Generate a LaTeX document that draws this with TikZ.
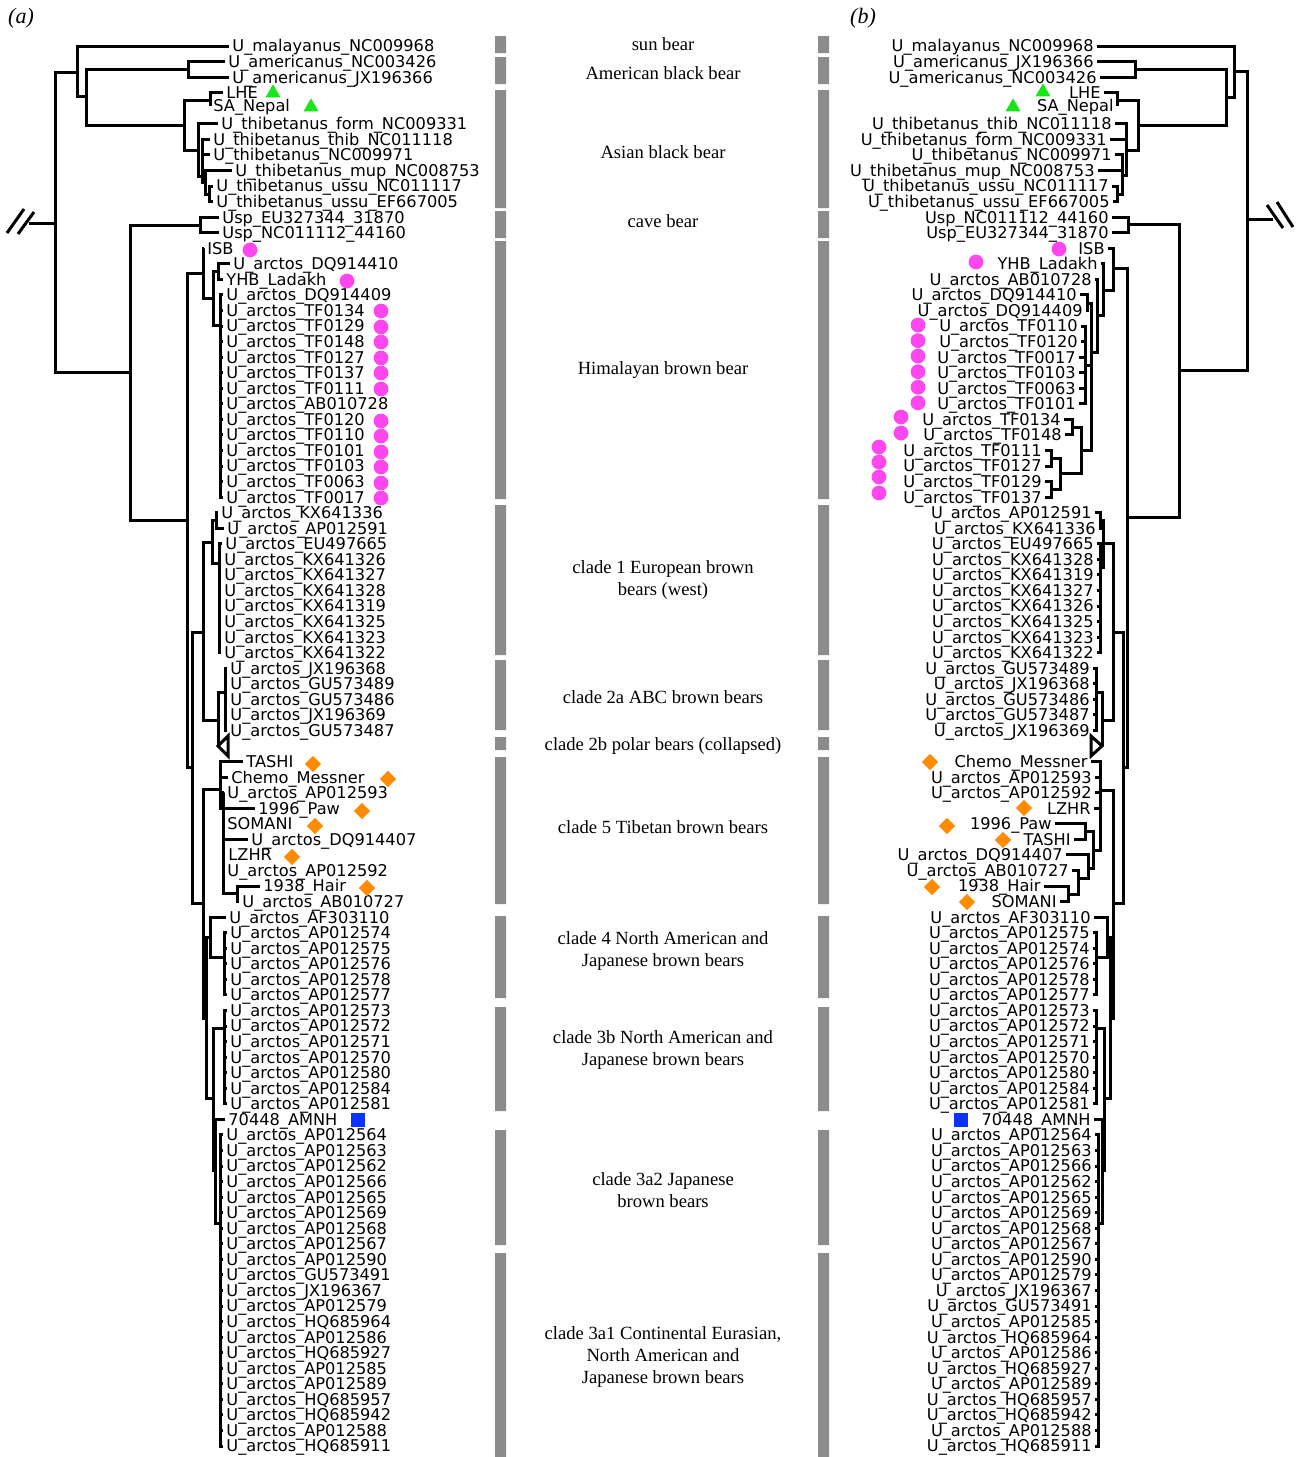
\documentclass[tikz,border=0pt]{standalone}
\usepackage{fontspec}
\setmainfont{Liberation Serif}
\newfontfamily\leaffont{DejaVu Sans}
\usetikzlibrary{shapes.geometric}
\definecolor{barGrey}{HTML}{8C8C8C}
\definecolor{hapGreen}{HTML}{19E619}
\definecolor{hapPink}{HTML}{FF47F0}
\definecolor{hapOrange}{HTML}{FF8C00}
\definecolor{hapBlue}{HTML}{0A32FF}
\newcommand{\ua}{U\_arctos\_}

\begin{document}
\begin{tikzpicture}[
 x=0.5pt,y=-0.5pt,
 leafL/.style={anchor=west,inner xsep=1.5pt,inner ysep=0pt,text height=5.9pt,text depth=0pt,font=\leaffont\fontsize{8.1}{9}\selectfont},
 leafR/.style={leafL,anchor=east},
 branch/.style={line width=1.5pt,line join=miter,draw=black},
 cladelabel/.style={font=\fontsize{9.3}{11}\selectfont,align=center,inner sep=0pt},
 panel/.style={font=\itshape\fontsize{11}{13}\selectfont,inner sep=0pt},
 clBar/.style={fill=barGrey},
 hapTri/.style={regular polygon,regular polygon sides=3,fill=hapGreen,inner sep=0pt,minimum size=8.6pt},
 hapDot/.style={circle,fill=hapPink,inner sep=0pt,minimum size=7.4pt},
 hapDia/.style={diamond,fill=hapOrange,inner sep=0pt,minimum size=8.2pt},
 hapSq/.style={rectangle,fill=hapBlue,inner sep=0pt,minimum size=7pt}
]
\path[use as bounding box,fill=white] (0,0) rectangle (1301,1457);

\node[panel] (pa) at (21,18) {(a)};
\node[panel] (pb) at (863,18) {(b)};

% clade bars, left and right
\fill[clBar] (495,36) rectangle (506,53) (818,36) rectangle (829,53);
\fill[clBar] (495,57) rectangle (506,84) (818,57) rectangle (829,84);
\fill[clBar] (495,90) rectangle (506,208) (818,90) rectangle (829,208);
\fill[clBar] (495,211) rectangle (506,238) (818,211) rectangle (829,238);
\fill[clBar] (495,241) rectangle (506,499) (818,241) rectangle (829,499);
\fill[clBar] (495,505) rectangle (506,655) (818,505) rectangle (829,655);
\fill[clBar] (495,660) rectangle (506,730) (818,660) rectangle (829,730);
\fill[clBar] (495,737) rectangle (506,750) (818,737) rectangle (829,750);
\fill[clBar] (495,757) rectangle (506,904) (818,757) rectangle (829,904);
\fill[clBar] (495,916) rectangle (506,998) (818,916) rectangle (829,998);
\fill[clBar] (495,1007) rectangle (506,1111) (818,1007) rectangle (829,1111);
\fill[clBar] (495,1130) rectangle (506,1245) (818,1130) rectangle (829,1245);
\fill[clBar] (495,1253) rectangle (506,1457) (818,1253) rectangle (829,1457);

\node[cladelabel] (cl1) at (663,44) {sun bear};
\node[cladelabel] (cl2) at (663,73) {American black bear};
\node[cladelabel] (cl3) at (663,152) {Asian black bear};
\node[cladelabel] (cl4) at (663,221) {cave bear};
\node[cladelabel] (cl5) at (663,370) {Himalayan brown bear};
\node[cladelabel] (cl6) at (663,580) {clade 1 European brown\\bears (west)};
\node[cladelabel] (cl7) at (663,697) {clade 2a ABC brown bears};
\node[cladelabel] (cl8) at (663,746) {clade 2b polar bears (collapsed)};
\node[cladelabel] (cl9) at (663,827) {clade 5 Tibetan brown bears};
\node[cladelabel] (cl10) at (663,951) {clade 4 North American and\\Japanese brown bears};
\node[cladelabel] (cl11) at (663,1050) {clade 3b North American and\\Japanese brown bears};
\node[cladelabel] (cl12) at (663,1190) {clade 3a2 Japanese\\brown bears};
\node[cladelabel] (cl13) at (663,1357) {clade 3a1 Continental Eurasian,\\North American and\\Japanese brown bears};

% ---------- tree (a) ----------
\node[leafL] (la1) at (229,46.0) {U\_malayanus\_NC009968};
\node[leafL] (la2) at (225,61.6) {U\_americanus\_NC003426};
\node[leafL] (la3) at (229,77.1) {U\_americanus\_JX196366};
\node[leafL] (la4) at (223,92.7) {LHE};
\node[leafL] (la5) at (210,106) {SA\_Nepal};
\node[leafL] (la6) at (218,123.8) {U\_thibetanus\_form\_NC009331};
\node[leafL] (la7) at (210,139.3) {U\_thibetanus\_thib\_NC011118};
\node[leafL] (la8) at (210,154.9) {U\_thibetanus\_NC009971};
\node[leafL] (la9) at (232,170.4) {U\_thibetanus\_mup\_NC008753};
\node[leafL] (la10) at (213,186.0) {U\_thibetanus\_ussu\_NC011117};
\node[leafL] (la11) at (213,201.6) {U\_thibetanus\_ussu\_EF667005};
\node[leafL] (la12) at (219,217.1) {Usp\_EU327344\_31870};
\node[leafL] (la13) at (219,232.7) {Usp\_NC011112\_44160};
\node[leafL] (la14) at (204,248.2) {ISB};
\node[leafL] (la15) at (230,263.8) {\ua DQ914410};
\node[leafL] (la16) at (223,279.3) {YHB\_Ladakh};
\node[leafL] (la17) at (223,294.9) {\ua DQ914409};
\node[leafL] (la18) at (223,310.4) {\ua TF0134};
\node[leafL] (la19) at (223,326.0) {\ua TF0129};
\node[leafL] (la20) at (223,341.6) {\ua TF0148};
\node[leafL] (la21) at (223,357.1) {\ua TF0127};
\node[leafL] (la22) at (223,372.7) {\ua TF0137};
\node[leafL] (la23) at (223,388.2) {\ua TF0111};
\node[leafL] (la24) at (223,403.8) {\ua AB010728};
\node[leafL] (la25) at (223,419.3) {\ua TF0120};
\node[leafL] (la26) at (223,434.9) {\ua TF0110};
\node[leafL] (la27) at (223,450.4) {\ua TF0101};
\node[leafL] (la28) at (223,466.0) {\ua TF0103};
\node[leafL] (la29) at (223,481.6) {\ua TF0063};
\node[leafL] (la30) at (223,497.1) {\ua TF0017};
\node[leafL] (la31) at (218,512.7) {\ua KX641336};
\node[leafL] (la32) at (224,528.2) {\ua AP012591};
\node[leafL] (la33) at (222,543.8) {\ua EU497665};
\node[leafL] (la34) at (221,559.3) {\ua KX641326};
\node[leafL] (la35) at (221,574.9) {\ua KX641327};
\node[leafL] (la36) at (221,590.4) {\ua KX641328};
\node[leafL] (la37) at (221,606.0) {\ua KX641319};
\node[leafL] (la38) at (221,621.6) {\ua KX641325};
\node[leafL] (la39) at (221,637.1) {\ua KX641323};
\node[leafL] (la40) at (221,652.7) {\ua KX641322};
\node[leafL] (la41) at (227,668.2) {\ua JX196368};
\node[leafL] (la42) at (227,683.8) {\ua GU573489};
\node[leafL] (la43) at (227,699.3) {\ua GU573486};
\node[leafL] (la44) at (227,714.9) {\ua JX196369};
\node[leafL] (la45) at (227,730.4) {\ua GU573487};
\node[leafL] (la47) at (243,761.6) {TASHI};
\node[leafL] (la48) at (228,777.1) {Chemo\_Messner};
\node[leafL] (la49) at (224,792.7) {\ua AP012593};
\node[leafL] (la50) at (255,808.2) {1996\_Paw};
\node[leafL] (la51) at (224,823.8) {SOMANI};
\node[leafL] (la52) at (248,839.3) {\ua DQ914407};
\node[leafL] (la53) at (225,854.9) {LZHR};
\node[leafL] (la54) at (224,870.4) {\ua AP012592};
\node[leafL] (la55) at (260,886.0) {1938\_Hair};
\node[leafL] (la56) at (239,901.6) {\ua AB010727};
\node[leafL] (la57) at (226,917.1) {\ua AF303110};
\node[leafL] (la58) at (227,932.7) {\ua AP012574};
\node[leafL] (la59) at (227,948.2) {\ua AP012575};
\node[leafL] (la60) at (227,963.8) {\ua AP012576};
\node[leafL] (la61) at (227,979.3) {\ua AP012578};
\node[leafL] (la62) at (227,994.9) {\ua AP012577};
\node[leafL] (la63) at (227,1010.4) {\ua AP012573};
\node[leafL] (la64) at (227,1026.0) {\ua AP012572};
\node[leafL] (la65) at (227,1041.6) {\ua AP012571};
\node[leafL] (la66) at (227,1057.1) {\ua AP012570};
\node[leafL] (la67) at (227,1072.7) {\ua AP012580};
\node[leafL] (la68) at (227,1088.2) {\ua AP012584};
\node[leafL] (la69) at (227,1103.8) {\ua AP012581};
\node[leafL] (la70) at (225,1119.3) {70448\_AMNH};
\node[leafL] (la71) at (223,1134.9) {\ua AP012564};
\node[leafL] (la72) at (223,1150.4) {\ua AP012563};
\node[leafL] (la73) at (223,1166.0) {\ua AP012562};
\node[leafL] (la74) at (223,1181.6) {\ua AP012566};
\node[leafL] (la75) at (223,1197.1) {\ua AP012565};
\node[leafL] (la76) at (223,1212.7) {\ua AP012569};
\node[leafL] (la77) at (223,1228.2) {\ua AP012568};
\node[leafL] (la78) at (223,1243.8) {\ua AP012567};
\node[leafL] (la79) at (223,1259.3) {\ua AP012590};
\node[leafL] (la80) at (223,1274.9) {\ua GU573491};
\node[leafL] (la81) at (223,1290.4) {\ua JX196367};
\node[leafL] (la82) at (223,1306.0) {\ua AP012579};
\node[leafL] (la83) at (223,1321.6) {\ua HQ685964};
\node[leafL] (la84) at (223,1337.1) {\ua AP012586};
\node[leafL] (la85) at (223,1352.7) {\ua HQ685927};
\node[leafL] (la86) at (223,1368.2) {\ua AP012585};
\node[leafL] (la87) at (223,1383.8) {\ua AP012589};
\node[leafL] (la88) at (223,1399.3) {\ua HQ685957};
\node[leafL] (la89) at (223,1414.9) {\ua HQ685942};
\node[leafL] (la90) at (223,1430.4) {\ua AP012588};
\node[leafL] (la91) at (223,1446.0) {\ua HQ685911};

\coordinate (Lcut) at (29,223);
\coordinate (Lroot) at (55,223);
\coordinate (L1) at (77,72);
\coordinate (L2) at (86,96);
\coordinate (L3) at (188,69);
\coordinate (L4) at (184,125);
\coordinate (L5) at (210,100);
\coordinate (L6) at (198,150);
\coordinate (L7) at (202,176);
\coordinate (L8) at (205,182);
\coordinate (L9) at (209,194);
\coordinate (L10) at (130,372);
\coordinate (L11) at (200,225);
\coordinate (L12) at (187,520);
\coordinate (LH1) at (203,273);
\coordinate (LH2) at (213,298);
\coordinate (LH3) at (218,271);
\coordinate (LH4) at (220,325);
\coordinate (L13) at (192,767);
\coordinate (L14) at (203,632);
\coordinate (L15) at (212,542);
\coordinate (L16) at (216,520);
\coordinate (L16b) at (219,563);
\coordinate (L17) at (218,720);
\coordinate (L18) at (225,692);
\coordinate (Lpolar) at (218,746);
\coordinate (L20) at (203,903);
\coordinate (L21) at (220,789);
\coordinate (L22) at (223,808);
\coordinate (L23) at (237,893);
\coordinate (L25) at (206,1018);
\coordinate (L26) at (210,937);
\coordinate (L27) at (224,957);
\coordinate (L28) at (213,1098);
\coordinate (L29) at (224,1028);
\coordinate (L30) at (215,1170);
\coordinate (L31) at (220,1223);

\draw[branch] (Lcut) -- (Lroot);
\draw[branch] (7,233) -- (24,209) (18,234) -- (34,212);
\draw[branch] (Lroot) |- (L1) (Lroot) |- (L10);
\draw[branch] (L1) |- (la1.west) (L1) |- (L2);
\draw[branch] (L2) |- (L3) (L2) |- (L4);
\draw[branch] (L3) |- (la2.west) (L3) |- (la3.west);
\draw[branch] (L4) |- (L5) (L4) |- (L6);
\draw[branch] (L5) |- (la4.west) (L5) |- (la5.west);
\draw[branch] (L6) |- (la6.west) (L6) |- (L7);
\draw[branch] (L7) |- (la7.west) (L7) |- (la8.west) (L7) |- (L8);
\draw[branch] (L8) |- (la9.west) (L8) |- (L9);
\draw[branch] (L9) |- (la10.west) (L9) |- (la11.west);
\draw[branch] (L10) |- (L11) (L10) |- (L12);
\draw[branch] (L11) |- (la12.west) (L11) |- (la13.west);
\draw[branch] (L12) |- (LH1) (L12) |- (L13);
\draw[branch] (LH1) |- (la14.west) (LH1) |- (LH2);
\draw[branch] (LH2) |- (LH3) (LH2) |- (LH4);
\draw[branch] (LH3) |- (la15.west) (LH3) |- (la16.west);
\draw[branch] (LH4) |- (la17.west) (LH4) |- (la18.west) (LH4) |- (la19.west) (LH4) |- (la20.west)
 (LH4) |- (la21.west) (LH4) |- (la22.west) (LH4) |- (la23.west) (LH4) |- (la24.west)
 (LH4) |- (la25.west) (LH4) |- (la26.west) (LH4) |- (la27.west) (LH4) |- (la28.west)
 (LH4) |- (la29.west) (LH4) |- (la30.west);
\draw[branch] (L13) |- (L14) (L13) |- (L20);
\draw[branch] (L14) |- (L15) (L14) |- (L17);
\draw[branch] (L15) |- (L16) (L15) |- (L16b);
\draw[branch] (L16) |- (la31.west) (L16) |- (la32.west);
\draw[branch] (L16b) |- (la33.west) (L16b) |- (la34.west) (L16b) |- (la35.west) (L16b) |- (la36.west)
 (L16b) |- (la37.west) (L16b) |- (la38.west) (L16b) |- (la39.west) (L16b) |- (la40.west);
\draw[branch] (L17) |- (L18) (L17) |- (Lpolar);
\draw[branch] (L18) |- (la41.west) (L18) |- (la42.west) (L18) |- (la43.west) (L18) |- (la44.west) (L18) |- (la45.west);
\draw[branch,fill=white] (Lpolar) -- ++(10,-10) -- ++(0,20) -- cycle;
\draw[branch] (L20) |- (L21) (L20) |- (L25);
\draw[branch] (L21) |- (la47.west) (L21) |- (la48.west) (L21) |- (L22);
\draw[branch] (L22) |- (la49.west) (L22) |- (la50.west) (L22) |- (la51.west) (L22) |- (la52.west)
 (L22) |- (la53.west) (L22) |- (la54.west) (L22) |- (L23);
\draw[branch] (L23) |- (la55.west) (L23) |- (la56.west);
\draw[branch] (L25) |- (L26) (L25) |- (L28);
\draw[branch] (L26) |- (la57.west) (L26) |- (L27);
\draw[branch] (L27) |- (la58.west) (L27) |- (la59.west) (L27) |- (la60.west) (L27) |- (la61.west) (L27) |- (la62.west);
\draw[branch] (L28) |- (L29) (L28) |- (L30);
\draw[branch] (L29) |- (la63.west) (L29) |- (la64.west) (L29) |- (la65.west) (L29) |- (la66.west)
 (L29) |- (la67.west) (L29) |- (la68.west) (L29) |- (la69.west);
\draw[branch] (L30) |- (la70.west) (L30) |- (L31);
\draw[branch] (L31) |- (la71.west) (L31) |- (la72.west) (L31) |- (la73.west) (L31) |- (la74.west)
 (L31) |- (la75.west) (L31) |- (la76.west) (L31) |- (la77.west) (L31) |- (la78.west)
 (L31) |- (la79.west) (L31) |- (la80.west) (L31) |- (la81.west) (L31) |- (la82.west)
 (L31) |- (la83.west) (L31) |- (la84.west) (L31) |- (la85.west) (L31) |- (la86.west)
 (L31) |- (la87.west) (L31) |- (la88.west) (L31) |- (la89.west) (L31) |- (la90.west) (L31) |- (la91.west);

\node[hapTri] (mkLa) at (273,93) {};
\node[hapTri] (mkLb) at (311,107) {};
\node[hapDot] (mkLc) at (250,250) {};
\node[hapDot] (mkLd) at (347,281) {};
\node[hapDot] (mkLe) at (381,311) {};
\node[hapDot] (mkLf) at (381,327) {};
\node[hapDot] (mkLg) at (381,342) {};
\node[hapDot] (mkLh) at (381,358) {};
\node[hapDot] (mkLi) at (381,373) {};
\node[hapDot] (mkLj) at (381,389) {};
\node[hapDot] (mkLk) at (381,421) {};
\node[hapDot] (mkLl) at (381,436) {};
\node[hapDot] (mkLm) at (381,452) {};
\node[hapDot] (mkLn) at (381,467) {};
\node[hapDot] (mkLo) at (381,483) {};
\node[hapDot] (mkLp) at (381,498) {};
\node[hapDia] (mkLq) at (313,764) {};
\node[hapDia] (mkLr) at (388,779) {};
\node[hapDia] (mkLs) at (362,811) {};
\node[hapDia] (mkLt) at (315,826) {};
\node[hapDia] (mkLu) at (292,857) {};
\node[hapDia] (mkLv) at (367,888) {};
\node[hapSq] (mkLw) at (358,1120) {};

% ---------- tree (b) ----------
\node[leafR] (rb1) at (1097,46.0) {U\_malayanus\_NC009968};
\node[leafR] (rb2) at (1097,61.6) {U\_americanus\_JX196366};
\node[leafR] (rb3) at (1100,77.1) {U\_americanus\_NC003426};
\node[leafR] (rb4) at (1104,92.7) {LHE};
\node[leafR] (rb5) at (1117,106) {SA\_Nepal};
\node[leafR] (rb6) at (1115,123.8) {U\_thibetanus\_thib\_NC011118};
\node[leafR] (rb7) at (1110,139.3) {U\_thibetanus\_form\_NC009331};
\node[leafR] (rb8) at (1115,154.9) {U\_thibetanus\_NC009971};
\node[leafR] (rb9) at (1098,170.4) {U\_thibetanus\_mup\_NC008753};
\node[leafR] (rb10) at (1112,186.0) {U\_thibetanus\_ussu\_NC011117};
\node[leafR] (rb11) at (1113,201.6) {U\_thibetanus\_ussu\_EF667005};
\node[leafR] (rb12) at (1112,217.1) {Usp\_NC011112\_44160};
\node[leafR] (rb13) at (1112,232.7) {Usp\_EU327344\_31870};
\node[leafR] (rb14) at (1108,248.2) {ISB};
\node[leafR] (rb15) at (1101,263.8) {YHB\_Ladakh};
\node[leafR] (rb16) at (1095,279.3) {\ua AB010728};
\node[leafR] (rb17) at (1080,294.9) {\ua DQ914410};
\node[leafR] (rb18) at (1086,310.4) {\ua DQ914409};
\node[leafR] (rb19) at (1081,326.0) {\ua TF0110};
\node[leafR] (rb20) at (1081,341.6) {\ua TF0120};
\node[leafR] (rb21) at (1079,357.1) {\ua TF0017};
\node[leafR] (rb22) at (1079,372.7) {\ua TF0103};
\node[leafR] (rb23) at (1079,388.2) {\ua TF0063};
\node[leafR] (rb24) at (1079,403.8) {\ua TF0101};
\node[leafR] (rb25) at (1064,419.3) {\ua TF0134};
\node[leafR] (rb26) at (1065,434.9) {\ua TF0148};
\node[leafR] (rb27) at (1045,450.4) {\ua TF0111};
\node[leafR] (rb28) at (1045,466.0) {\ua TF0127};
\node[leafR] (rb29) at (1045,481.6) {\ua TF0129};
\node[leafR] (rb30) at (1045,497.1) {\ua TF0137};
\node[leafR] (rb31) at (1095,512.7) {\ua AP012591};
\node[leafR] (rb32) at (1099,528.2) {\ua KX641336};
\node[leafR] (rb33) at (1097,543.8) {\ua EU497665};
\node[leafR] (rb34) at (1097,559.3) {\ua KX641328};
\node[leafR] (rb35) at (1097,574.9) {\ua KX641319};
\node[leafR] (rb36) at (1097,590.4) {\ua KX641327};
\node[leafR] (rb37) at (1097,606.0) {\ua KX641326};
\node[leafR] (rb38) at (1097,621.6) {\ua KX641325};
\node[leafR] (rb39) at (1097,637.1) {\ua KX641323};
\node[leafR] (rb40) at (1097,652.7) {\ua KX641322};
\node[leafR] (rb41) at (1093,668.2) {\ua GU573489};
\node[leafR] (rb42) at (1093,683.8) {\ua JX196368};
\node[leafR] (rb43) at (1093,699.3) {\ua GU573486};
\node[leafR] (rb44) at (1093,714.9) {\ua GU573487};
\node[leafR] (rb45) at (1093,730.4) {\ua JX196369};
\node[leafR] (rb47) at (1091,761.6) {Chemo\_Messner};
\node[leafR] (rb48) at (1095,777.1) {\ua AP012593};
\node[leafR] (rb49) at (1095,792.7) {\ua AP012592};
\node[leafR] (rb50) at (1094,808.2) {LZHR};
\node[leafR] (rb51) at (1055,823.8) {1996\_Paw};
\node[leafR] (rb52) at (1074,839.3) {TASHI};
\node[leafR] (rb53) at (1066,854.9) {\ua DQ914407};
\node[leafR] (rb54) at (1072,870.4) {\ua AB010727};
\node[leafR] (rb55) at (1044,886.0) {1938\_Hair};
\node[leafR] (rb56) at (1060,901.6) {SOMANI};
\node[leafR] (rb57) at (1094,917.1) {\ua AF303110};
\node[leafR] (rb58) at (1093,932.7) {\ua AP012575};
\node[leafR] (rb59) at (1093,948.2) {\ua AP012574};
\node[leafR] (rb60) at (1093,963.8) {\ua AP012576};
\node[leafR] (rb61) at (1093,979.3) {\ua AP012578};
\node[leafR] (rb62) at (1093,994.9) {\ua AP012577};
\node[leafR] (rb63) at (1093,1010.4) {\ua AP012573};
\node[leafR] (rb64) at (1093,1026.0) {\ua AP012572};
\node[leafR] (rb65) at (1093,1041.6) {\ua AP012571};
\node[leafR] (rb66) at (1093,1057.1) {\ua AP012570};
\node[leafR] (rb67) at (1093,1072.7) {\ua AP012580};
\node[leafR] (rb68) at (1093,1088.2) {\ua AP012584};
\node[leafR] (rb69) at (1093,1103.8) {\ua AP012581};
\node[leafR] (rb70) at (1094,1119.3) {70448\_AMNH};
\node[leafR] (rb71) at (1095,1134.9) {\ua AP012564};
\node[leafR] (rb72) at (1095,1150.4) {\ua AP012563};
\node[leafR] (rb73) at (1095,1166.0) {\ua AP012566};
\node[leafR] (rb74) at (1095,1181.6) {\ua AP012562};
\node[leafR] (rb75) at (1095,1197.1) {\ua AP012565};
\node[leafR] (rb76) at (1095,1212.7) {\ua AP012569};
\node[leafR] (rb77) at (1095,1228.2) {\ua AP012568};
\node[leafR] (rb78) at (1095,1243.8) {\ua AP012567};
\node[leafR] (rb79) at (1095,1259.3) {\ua AP012590};
\node[leafR] (rb80) at (1095,1274.9) {\ua AP012579};
\node[leafR] (rb81) at (1095,1290.4) {\ua JX196367};
\node[leafR] (rb82) at (1095,1306.0) {\ua GU573491};
\node[leafR] (rb83) at (1095,1321.6) {\ua AP012585};
\node[leafR] (rb84) at (1095,1337.1) {\ua HQ685964};
\node[leafR] (rb85) at (1095,1352.7) {\ua AP012586};
\node[leafR] (rb86) at (1095,1368.2) {\ua HQ685927};
\node[leafR] (rb87) at (1095,1383.8) {\ua AP012589};
\node[leafR] (rb88) at (1095,1399.3) {\ua HQ685957};
\node[leafR] (rb89) at (1095,1414.9) {\ua HQ685942};
\node[leafR] (rb90) at (1095,1430.4) {\ua AP012588};
\node[leafR] (rb91) at (1095,1446.0) {\ua HQ685911};

\coordinate (Rcut) at (1273,219);
\coordinate (Rroot) at (1247,219);
\coordinate (R1) at (1234,71);
\coordinate (R2) at (1226,97);
\coordinate (R3) at (1135,69);
\coordinate (R4) at (1138,125);
\coordinate (R5) at (1117,100);
\coordinate (R6) at (1126,150);
\coordinate (R7) at (1122,175);
\coordinate (R8) at (1117,194);
\coordinate (R10) at (1179,370);
\coordinate (R11) at (1128,224);
\coordinate (R12) at (1127,517);
\coordinate (RH1) at (1113,268);
\coordinate (RH2) at (1103,290);
\coordinate (RH3) at (1097,315);
\coordinate (RH4) at (1091,352);
\coordinate (RH5) at (1087,303);
\coordinate (RH6) at (1085,365);
\coordinate (RH7) at (1081,450);
\coordinate (RH8) at (1072,427);
\coordinate (RH9) at (1060,473);
\coordinate (RH10) at (1051,458);
\coordinate (RH11) at (1051,489);
\coordinate (R13) at (1123,767);
\coordinate (R14) at (1113,632);
\coordinate (R15) at (1103,543);
\coordinate (R16) at (1100,520);
\coordinate (R16b) at (1100,567);
\coordinate (R17) at (1102,720);
\coordinate (R18) at (1096,692);
\coordinate (Rpolar) at (1102,746);
\coordinate (R20) at (1113,903);
\coordinate (R21) at (1100,790);
\coordinate (R22) at (1093,850);
\coordinate (R23) at (1085,831);
\coordinate (R24) at (1088,868);
\coordinate (R24b) at (1078,878);
\coordinate (R24c) at (1068,894);
\coordinate (R25) at (1110,1018);
\coordinate (R26) at (1107,937);
\coordinate (R27) at (1096,957);
\coordinate (R28) at (1104,1098);
\coordinate (R29) at (1096,1028);
\coordinate (R30) at (1102,1170);
\coordinate (R31) at (1098,1223);

\draw[branch] (Rcut) -- (Rroot);
\draw[branch] (1267,205) -- (1283,228) (1277,202) -- (1293,227);
\draw[branch] (Rroot) |- (R1) (Rroot) |- (R10);
\draw[branch] (R1) |- (rb1.east) (R1) |- (R2);
\draw[branch] (R2) |- (R3) (R2) |- (R4);
\draw[branch] (R3) |- (rb2.east) (R3) |- (rb3.east);
\draw[branch] (R4) |- (R5) (R4) |- (R6);
\draw[branch] (R5) |- (rb4.east) (R5) |- (rb5.east);
\draw[branch] (R6) |- (rb6.east) (R6) |- (rb7.east) (R6) |- (R7);
\draw[branch] (R7) |- (rb8.east) (R7) |- (rb9.east) (R7) |- (R8);
\draw[branch] (R8) |- (rb10.east) (R8) |- (rb11.east);
\draw[branch] (R10) |- (R11) (R10) |- (R12);
\draw[branch] (R11) |- (rb12.east) (R11) |- (rb13.east);
\draw[branch] (R12) |- (RH1) (R12) |- (R13);
\draw[branch] (RH1) |- (rb14.east) (RH1) |- (RH2);
\draw[branch] (RH2) |- (rb15.east) (RH2) |- (RH3);
\draw[branch] (RH3) |- (rb16.east) (RH3) |- (RH4);
\draw[branch] (RH4) |- (RH5) (RH4) |- (RH6) (RH4) |- (RH7);
\draw[branch] (RH5) |- (rb17.east) (RH5) |- (rb18.east);
\draw[branch] (RH6) |- (rb19.east) (RH6) |- (rb20.east) (RH6) |- (rb21.east)
 (RH6) |- (rb22.east) (RH6) |- (rb23.east) (RH6) |- (rb24.east);
\draw[branch] (RH7) |- (RH8) (RH7) |- (RH9);
\draw[branch] (RH8) |- (rb25.east) (RH8) |- (rb26.east);
\draw[branch] (RH9) |- (RH10) (RH9) |- (RH11);
\draw[branch] (RH10) |- (rb27.east) (RH10) |- (rb28.east);
\draw[branch] (RH11) |- (rb29.east) (RH11) |- (rb30.east);
\draw[branch] (R13) |- (R14) (R13) |- (R20);
\draw[branch] (R14) |- (R15) (R14) |- (R17);
\draw[branch] (R15) |- (R16) (R15) |- (R16b);
\draw[branch] (R16) |- (rb31.east) (R16) |- (rb32.east);
\draw[branch] (R16b) |- (rb33.east) (R16b) |- (rb34.east) (R16b) |- (rb35.east) (R16b) |- (rb36.east)
 (R16b) |- (rb37.east) (R16b) |- (rb38.east) (R16b) |- (rb39.east) (R16b) |- (rb40.east);
\draw[branch] (R17) |- (R18) (R17) |- (Rpolar);
\draw[branch] (R18) |- (rb41.east) (R18) |- (rb42.east) (R18) |- (rb43.east) (R18) |- (rb44.east) (R18) |- (rb45.east);
\draw[branch,fill=white] (Rpolar) -- ++(-11,-10) -- ++(0,20) -- cycle;
\draw[branch] (R20) |- (R21) (R20) |- (R25);
\draw[branch] (R21) |- (rb47.east) (R21) |- (rb48.east) (R21) |- (rb49.east) (R21) |- (rb50.east) (R21) |- (R22);
\draw[branch] (R22) |- (R23) (R22) |- (R24);
\draw[branch] (R23) |- (rb51.east) (R23) |- (rb52.east);
\draw[branch] (R24) |- (rb53.east) (R24) |- (R24b);
\draw[branch] (R24b) |- (rb54.east) (R24b) |- (R24c);
\draw[branch] (R24c) |- (rb55.east) (R24c) |- (rb56.east);
\draw[branch] (R25) |- (R26) (R25) |- (R28);
\draw[branch] (R26) |- (rb57.east) (R26) |- (R27);
\draw[branch] (R27) |- (rb58.east) (R27) |- (rb59.east) (R27) |- (rb60.east) (R27) |- (rb61.east) (R27) |- (rb62.east);
\draw[branch] (R28) |- (R29) (R28) |- (R30);
\draw[branch] (R29) |- (rb63.east) (R29) |- (rb64.east) (R29) |- (rb65.east) (R29) |- (rb66.east)
 (R29) |- (rb67.east) (R29) |- (rb68.east) (R29) |- (rb69.east);
\draw[branch] (R30) |- (rb70.east) (R30) |- (R31);
\draw[branch] (R31) |- (rb71.east) (R31) |- (rb72.east) (R31) |- (rb73.east) (R31) |- (rb74.east)
 (R31) |- (rb75.east) (R31) |- (rb76.east) (R31) |- (rb77.east) (R31) |- (rb78.east)
 (R31) |- (rb79.east) (R31) |- (rb80.east) (R31) |- (rb81.east) (R31) |- (rb82.east)
 (R31) |- (rb83.east) (R31) |- (rb84.east) (R31) |- (rb85.east) (R31) |- (rb86.east)
 (R31) |- (rb87.east) (R31) |- (rb88.east) (R31) |- (rb89.east) (R31) |- (rb90.east) (R31) |- (rb91.east);

\node[hapTri] (mkRa) at (1043,92) {};
\node[hapTri] (mkRb) at (1013,107) {};
\node[hapDot] (mkRc) at (1059,249) {};
\node[hapDot] (mkRd) at (976,262) {};
\node[hapDot] (mkRe) at (918,325) {};
\node[hapDot] (mkRf) at (918,340.6) {};
\node[hapDot] (mkRg) at (918,356) {};
\node[hapDot] (mkRh) at (918,371.7) {};
\node[hapDot] (mkRi) at (918,387.2) {};
\node[hapDot] (mkRj) at (918,402.8) {};
\node[hapDot] (mkRk) at (901,417) {};
\node[hapDot] (mkRl) at (901,433) {};
\node[hapDot] (mkRm) at (879,447) {};
\node[hapDot] (mkRn) at (879,462) {};
\node[hapDot] (mkRo) at (879,477) {};
\node[hapDot] (mkRp) at (879,493) {};
\node[hapDia] (mkRq) at (930,762) {};
\node[hapDia] (mkRr) at (1024,808) {};
\node[hapDia] (mkRs) at (947,826) {};
\node[hapDia] (mkRt) at (1003,840) {};
\node[hapDia] (mkRu) at (932,887) {};
\node[hapDia] (mkRv) at (967,902) {};
\node[hapSq] (mkRw) at (961,1120) {};
\end{tikzpicture}
\end{document}
